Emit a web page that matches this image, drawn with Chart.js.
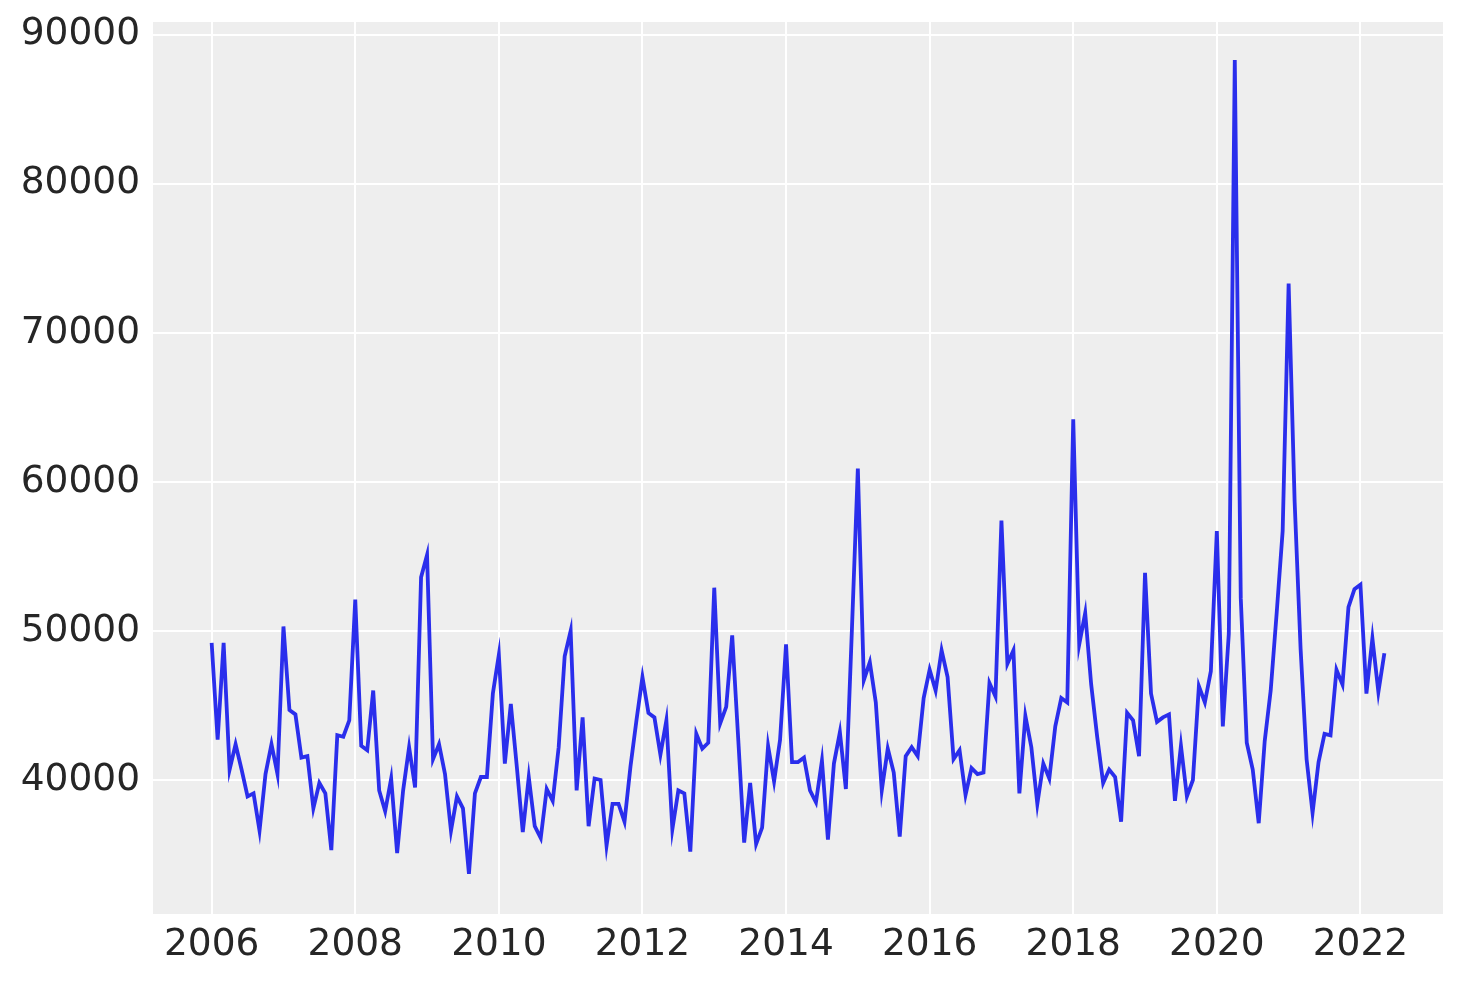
<!DOCTYPE html>
<html>
<head>
<meta charset="utf-8">
<script src="https://cdn.jsdelivr.net/npm/chart.js@4.4.1/dist/chart.umd.min.js"></script>
<style>
  body { margin: 0; background: #ffffff; }
  #salesChart { display: block; }
</style>
</head>
<body>
<canvas id="salesChart" width="1463" height="983"></canvas>
<script>
// monthly values, Jan 2006 .. May 2022
const startYear = 2006
const values = [
  49200, 42700, 49200, 40700, 42400, 40700, 38900, 39100, 36600, 40400, 42400, 40400, // 2006
  50300, 44700, 44400, 41500, 41600, 38100, 39800, 39100, 35300, 43000, 42900, 44000, // 2007
  52100, 42300, 42000, 46000, 39300, 37900, 40100, 35100, 39300, 42200, 39500, 53600, // 2008
  55100, 41400, 42400, 40400, 36600, 38900, 38100, 33700, 39100, 40200, 40200, 45800, // 2009
  48400, 41100, 45100, 40900, 36500, 40200, 36900, 36100, 39400, 38600, 42200, 48300, // 2010
  50000, 39300, 44200, 36900, 40100, 40000, 35600, 38400, 38400, 37200, 40900, 44000, // 2011
  46900, 44500, 44200, 41700, 44000, 36700, 39300, 39100, 35200, 43100, 42100, 42500, // 2012
  52900, 43800, 44900, 49700, 42800, 35800, 39800, 35700, 36800, 42300, 39900, 42700, // 2013
  49100, 41200, 41200, 41500, 39300, 38500, 41300, 36000, 41100, 43200, 39400, 50000, // 2014
  60900, 46700, 47900, 45200, 39300, 42100, 40500, 36200, 41600, 42200, 41600, 45500, // 2015
  47400, 46000, 48700, 46900, 41400, 42000, 39000, 40800, 40400, 40500, 46500, 45600, // 2016
  57400, 47800, 48700, 39100, 44300, 42200, 38400, 41100, 40100, 43600, 45500, 45200, // 2017
  64200, 49100, 51200, 46400, 42900, 39800, 40700, 40200, 37200, 44500, 44000, 41600, // 2018
  53900, 45800, 43900, 44200, 44400, 38600, 42300, 38900, 40000, 46300, 45200, 47300, // 2019
  56700, 43600, 49800, 88300, 52200, 42500, 40700, 37100, 42600, 46000, 51200, 56700, // 2020
  73300, 58700, 48800, 41400, 37800, 41200, 43100, 43000, 47400, 46400, 51600, 52800, // 2021
  53100, 45800, 49500, 45900, 48500                                                    // 2022
]
const xTicks = [2006, 2008, 2010, 2012, 2014, 2016, 2018, 2020, 2022]
const yTicks = [40000, 50000, 60000, 70000, 80000, 90000]

// month index -> decimal year
const points = values.map((v, i) => ({ x: startYear + i / 12, y: v }))

const textColor = "#262626"
const tickFont = { family: "DejaVu Sans", size: 37.5 }

// grey panel behind the plot
const panelBg = {
  id: "panelBg",
  beforeDraw(chart) {
    const a = chart.chartArea
    const c = chart.ctx
    c.save()
    c.fillStyle = "#eeeeee"
    c.fillRect(a.left, a.top, a.right - a.left, a.bottom - a.top)
    c.restore()
  },
}

const data = {
  datasets: [
    {
      data: points,
      borderColor: "#2a2eec",
      borderWidth: 3.8,
      pointRadius: 0,
      tension: 0,
      fill: false,
    },
  ],
}

let config = {
  type: "line",
  data: data,
  plugins: [panelBg],
  options: {
    responsive: false,
    animation: false,
    layout: {
      padding: { left: 0, top: 22, right: 20, bottom: 0 },
    },
    scales: {
      x: {
        type: "linear",
        min: 2005.183,
        max: 2023.15,
        border: { display: false },
        grid: { color: "#ffffff", lineWidth: 2, drawTicks: false },
        afterBuildTicks: (s) => { s.ticks = xTicks.map(v => ({ value: v })) },
        afterFit: (s) => { s.height = 69; s.paddingLeft = 0; s.paddingRight = 0 },
        ticks: {
          color: textColor,
          font: tickFont,
          padding: 9,
          maxRotation: 0,
          callback: (v) => String(v),
        },
      },
      y: {
        type: "linear",
        min: 31010,
        max: 90850,
        border: { display: false },
        grid: { color: "#ffffff", lineWidth: 2, drawTicks: false },
        afterBuildTicks: (s) => { s.ticks = yTicks.map(v => ({ value: v })) },
        afterFit: (s) => { s.width = 153; s.paddingTop = 0; s.paddingBottom = 0 },
        ticks: {
          color: textColor,
          font: tickFont,
          padding: 13,
          callback: (v) => String(v),
        },
      },
    },
    plugins: {
      legend: { display: false },
      tooltip: { enabled: false },
      title: { display: false },
    },
  },
}

const ctx = document.getElementById("salesChart").getContext("2d")
let myChart = new Chart(ctx, config)
</script>
</body>
</html>
